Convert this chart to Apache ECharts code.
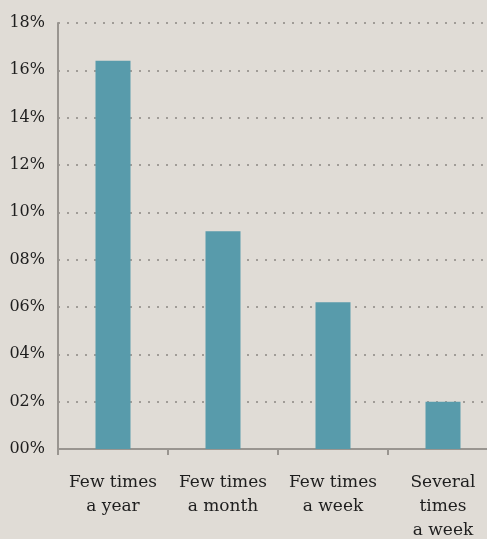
<!DOCTYPE html>
<html>
<head>
<meta charset="utf-8">
<script src="https://cdn.jsdelivr.net/npm/echarts@6/dist/echarts.min.js"></script>
<style>
  html, body { margin: 0; padding: 0; background: #e0dcd6; }
  #chart { width: 487px; height: 539px; }
</style>
</head>
<body>
<div id="chart"></div>
<script>
// Share of respondents by frequency (percent)
const categories = ['Few times\na year', 'Few times\na month', 'Few times\na week', 'Several\ntimes\na week'];
const shares = [16.4, 9.2, 6.2, 2.0];
const yMin = 0, yMax = 18, yStep = 2;

const chart = echarts.init(document.getElementById('chart'));
const serif = '"DejaVu Serif", "Liberation Serif", serif';

chart.setOption({
  backgroundColor: '#e0dcd6',
  animation: false,
  // plot area runs past the right edge so the last band is cut off
  grid: {
    left: 58, width: 440, top: 23, bottom: 90,
    containLabel: false,
    outerBoundsMode: 'none'
  },
  xAxis: {
    type: 'category',
    data: categories,
    axisLine: { show: true, lineStyle: { color: '#999590', width: 2 } },
    axisTick: { show: true, length: 6, lineStyle: { color: '#999590', width: 2 } },
    axisLabel: {
      color: '#1e1e1e',
      fontFamily: serif,
      fontSize: 17,
      lineHeight: 24,
      margin: 22,
      interval: 0
    }
  },
  yAxis: {
    type: 'value',
    min: yMin,
    max: yMax,
    interval: yStep,
    axisLine: { show: true, lineStyle: { color: '#999590', width: 2 } },
    axisTick: { show: false },
    axisLabel: {
      color: '#1e1e1e',
      fontFamily: serif,
      fontSize: 16,
      margin: 13,
      formatter: v => String(v).padStart(2, '0') + '%'
    },
    splitLine: {
      show: true,
      lineStyle: { color: '#a09c97', type: [2, 7], width: 2 }
    }
  },
  series: [{
    type: 'bar',
    data: shares,
    barWidth: 35,
    itemStyle: { color: '#589bab' }
  }]
});
</script>
</body>
</html>
